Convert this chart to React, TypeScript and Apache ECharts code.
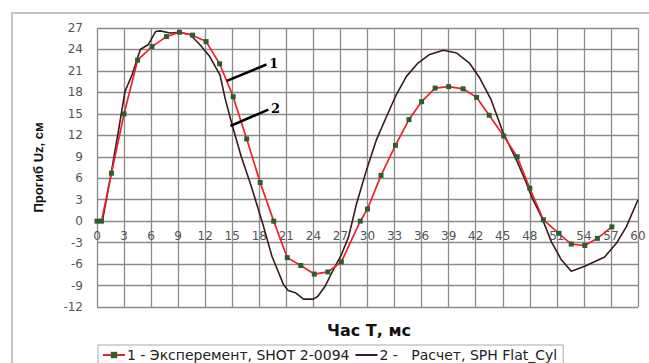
import React, { useEffect, useRef } from "react";
import * as echarts from "echarts";

// Series 1: experiment (red line with green square markers)
const expT = [0, 0.5, 1.6, 3.0, 4.5, 6.1, 7.7, 9.15, 10.6, 12.1, 13.6, 15.1, 16.6, 18.1, 19.6, 21.1, 22.6, 24.1, 25.6, 27.1, 29.2, 30.0, 31.5, 33.1, 34.6, 36.0, 37.5, 39.0, 40.6, 42.1, 43.5, 45.1, 46.6, 48.0, 49.5, 51.2, 52.6, 54.1, 55.5, 57.1];
const expV = [0, 0, 6.7, 15.0, 22.5, 24.4, 25.8, 26.4, 26.0, 25.1, 22.0, 17.4, 11.5, 5.4, 0, -5.1, -6.2, -7.4, -7.1, -5.7, 0, 1.7, 6.4, 10.6, 14.2, 16.7, 18.6, 18.8, 18.5, 17.3, 14.8, 11.9, 9.0, 4.6, 0.2, -1.7, -3.2, -3.4, -2.4, -0.8];

// Series 2: calculation (dark line)
const calcT = [0, 0.6, 1.5, 2.4, 3.1, 3.9, 4.8, 5.7, 6.5, 7.0, 8.1, 9.15, 10.3, 11.4, 12.5, 13.65, 14.2, 15.0, 16.0, 17.0, 18.3, 19.4, 20.7, 21.2, 22.0, 22.9, 24.0, 24.5, 25.3, 26.2, 27.1, 27.9, 28.8, 29.9, 31.0, 32.1, 33.2, 34.3, 35.6, 36.9, 38.4, 39.9, 41.3, 42.45, 43.7, 45.0, 46.5, 47.6, 48.2, 49.3, 50.4, 51.5, 52.6, 54.1, 56.3, 57.6, 58.7, 60];
const calcV = [0, 0, 6.2, 12.8, 18.1, 20.5, 24.0, 24.7, 26.5, 26.6, 26.3, 26.4, 26.1, 24.7, 23.0, 20.4, 17.2, 13.4, 9.0, 5.3, 0, -4.9, -8.9, -9.7, -10.0, -10.9, -10.9, -10.5, -9.1, -6.8, -4.7, -2.2, 2.5, 7.2, 11.4, 14.6, 17.7, 20.2, 22.1, 23.3, 23.9, 23.5, 22.1, 20.0, 17.0, 12.5, 8.6, 5.4, 3.4, 0.6, -2.9, -5.4, -7.0, -6.3, -5.0, -3.1, -0.8, 3.0];

const seriesNames = ["1 - Эксперемент, SHOT 2-0094", "2 -   Расчет, SPH Flat_Cyl"];
const xTitle = "Час Т, мс";
const yTitle = "Прогиб Uz, см";

// Axis ranges
const xMin = 0, xMax = 60, xStep = 3;
const yMin = -12, yMax = 27, yStep = 3;

// Annotation leader lines (data coordinates)
const note1 = { label: "1", from: [14.4, 19.6], to: [18.8, 21.9] };
const note2 = { label: "2", from: [14.8, 13.3], to: [19.0, 15.6] };

export default function App() {
  const ref = useRef<HTMLDivElement>(null);
  useEffect(() => {
    if (!ref.current) return;
    const chart = echarts.init(ref.current, null, { renderer: "svg" });
    const exp = expT.map((t, i) => [t, expV[i]]);
    const calc = calcT.map((t, i) => [t, calcV[i]]);
    const gridTop = 28, gridBottom = 56, H = 363;
    const plotH = H - gridTop - gridBottom;
    const zeroOffset = -plotH * (0 - yMin) / (yMax - yMin);
    const noteLine = (n: { label: string; from: number[]; to: number[] }) => [
      { coord: n.from },
      {
        coord: n.to,
        label: {
          show: true,
          position: "end",
          formatter: n.label,
          fontFamily: "DejaVu Serif, serif",
          fontWeight: "bold",
          fontSize: 13,
          color: "#000",
          distance: 3,
        },
      },
    ];
    chart.setOption({
      animation: false,
      backgroundColor: "#fff",
      textStyle: { fontFamily: "Liberation Sans, Arial, sans-serif" },
      graphic: [
        {
          type: "polyline",
          shape: { points: [[12, 370], [12, 13], [660, 13]] },
          style: { stroke: "#c4c4c4", lineWidth: 2, fill: "none" },
          silent: true,
        },
        {
          type: "text",
          x: 369,
          y: 330,
          style: {
            text: xTitle,
            fontSize: 16,
            fontWeight: "bold",
            fill: "#111",
            fontFamily: "DejaVu Sans, sans-serif",
            align: "center",
            verticalAlign: "middle",
          },
          silent: true,
        },
      ],
      grid: { left: 97, right: 11, top: gridTop, bottom: gridBottom, outerBoundsMode: "none", containLabel: false },
      xAxis: {
        type: "value",
        min: xMin,
        max: xMax,
        interval: xStep,
        offset: zeroOffset,
        axisLine: { show: false, onZero: false },
        axisTick: { show: false },
        axisLabel: { color: "#555", fontSize: 12, fontFamily: "DejaVu Sans, sans-serif", margin: 9 },
        splitLine: { show: true, lineStyle: { color: "#8a8a8a", width: 1.3 } },
      },
      yAxis: {
        type: "value",
        min: yMin,
        max: yMax,
        interval: yStep,
        name: yTitle,
        nameLocation: "middle",
        nameGap: 52,
        nameTextStyle: { fontSize: 13, fontWeight: "bold", color: "#111", fontFamily: "Liberation Sans, Arial, sans-serif" },
        axisLine: { show: false },
        axisTick: { show: false },
        axisLabel: { color: "#555", fontSize: 12, fontFamily: "DejaVu Sans, sans-serif", margin: 14 },
        splitLine: { show: true, lineStyle: { color: "#8a8a8a", width: 1.3 } },
      },
      legend: {
        show: true,
        left: 98,
        top: 345,
        padding: [3, 6, 3, 4],
        itemGap: 5,
        itemWidth: 22,
        itemHeight: 8,
        borderColor: "#a8a8a8",
        borderWidth: 1,
        textStyle: { fontSize: 14, color: "#222", fontFamily: "DejaVu Sans, sans-serif", padding: [0, 0, 0, -3] },
        data: [
          { name: seriesNames[0] },
          { name: seriesNames[1], itemStyle: { opacity: 0 } },
        ],
      },
      series: [
        {
          name: seriesNames[1],
          type: "line",
          data: calc,
          showSymbol: false,
          symbol: "none",
          lineStyle: { color: "#3a1a1a", width: 1.6 },
          itemStyle: { color: "#5a1a1a" },
          z: 2,
          markLine: {
            silent: true,
            symbol: ["none", "none"],
            lineStyle: { color: "#000", width: 2.5, type: "solid" },
            data: [noteLine(note1), noteLine(note2)],
          },
        },
        {
          name: seriesNames[0],
          type: "line",
          data: exp,
          symbol: "rect",
          symbolSize: 5,
          lineStyle: { color: "#ee2030", width: 1.7 },
          itemStyle: { color: "#2e5e2e", borderWidth: 0 },
          z: 3,
        },
      ],
    });
    return () => chart.dispose();
  }, []);
  return <div ref={ref} style={{ position: "absolute", left: 0, top: 0, width: 649, height: 363 }} />;
}
